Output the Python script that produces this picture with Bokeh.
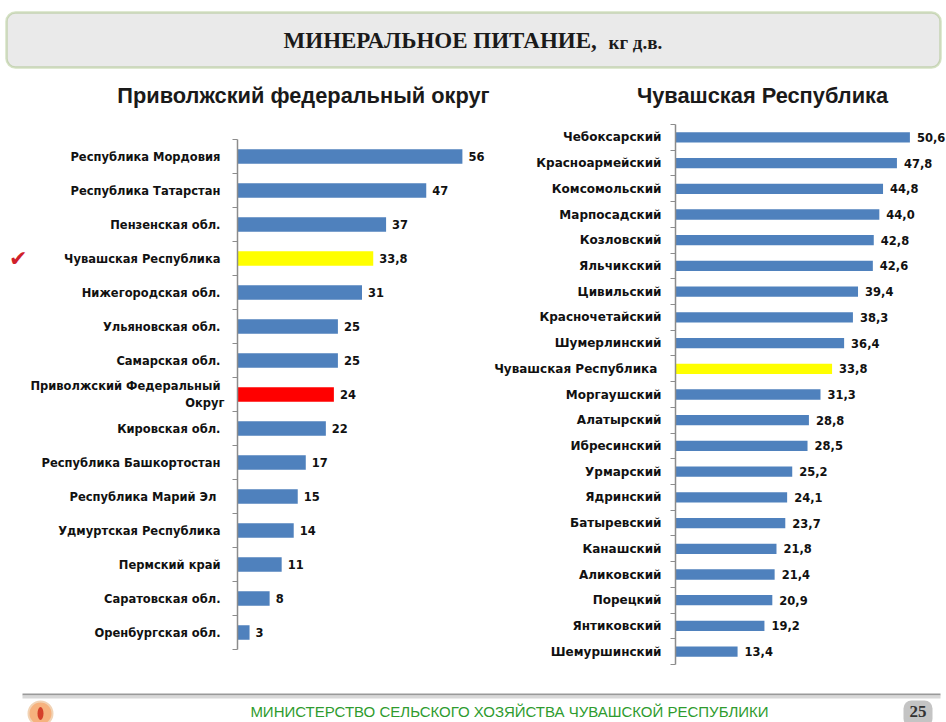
from bokeh.plotting import figure
from bokeh.layouts import column, row
from bokeh.models import Range1d, FixedTicker, ColumnDataSource, BoxAnnotation, LinearAxis
from bokeh.embed import file_html
from bokeh.resources import INLINE
from bokeh.core.properties import value

# ---------------- data ----------------
title_main = "МИНЕРАЛЬНОЕ  ПИТАНИЕ,"
title_unit = "кг д.в."
subtitle_left = "Приволжский федеральный округ"
subtitle_right = "Чувашская Республика"
footer_text = "МИНИСТЕРСТВО СЕЛЬСКОГО ХОЗЯЙСТВА ЧУВАШСКОЙ РЕСПУБЛИКИ"
page_number = "25"

pfo_regions = [
    "Республика  Мордовия",
    "Республика  Татарстан",
    "Пензенская  обл.",
    "Чувашская  Республика",
    "Нижегородская  обл.",
    "Ульяновская  обл.",
    "Самарская  обл.",
    "Приволжский  Федеральный\nОкруг",
    "Кировская  обл.",
    "Республика  Башкортостан",
    "Республика  Марий  Эл",
    "Удмуртская  Республика",
    "Пермский  край",
    "Саратовская  обл.",
    "Оренбургская  обл.",
]
pfo_values = [56, 47, 37, 33.8, 31, 25, 25, 24, 22, 17, 15, 14, 11, 8, 3]
pfo_highlight = {
    "Чувашская  Республика": "#FFFF00",
    "Приволжский  Федеральный\nОкруг": "#FF0000",
}
pfo_marked = "Чувашская  Республика"

chr_districts = [
    "Чебоксарский", "Красноармейский", "Комсомольский", "Марпосадский",
    "Козловский", "Яльчикский", "Цивильский", "Красночетайский",
    "Шумерлинский", "Чувашская  Республика", "Моргаушский", "Алатырский",
    "Ибресинский", "Урмарский", "Ядринский", "Батыревский", "Канашский",
    "Аликовский", "Порецкий", "Янтиковский", "Шемуршинский",
]
chr_values = [50.6, 47.8, 44.8, 44.0, 42.8, 42.6, 39.4, 38.3, 36.4, 33.8, 31.3,
              28.8, 28.5, 25.2, 24.1, 23.7, 21.8, 21.4, 20.9, 19.2, 13.4]
chr_highlight = {"Чувашская  Республика": "#FFFF00"}

BLUE = "#4F81BD"
FONT = value("DejaVu Sans")

CH_H = 567          # height of the chart row
B_TOP, B_BOT = 9, 18
FRAME_H = CH_H - B_TOP - B_BOT


def fmt_int(v):
    return f"{v:g}".replace(".", ",")


def fmt_one(v):
    return f"{v:.1f}".replace(".", ",")


def bar_chart(labels, values, highlight, fmt, width, b_left, xmax, y_range,
              label_size, value_size, standoff, bar_h, val_offset):
    n = len(labels)
    pos = [n - 1 - i for i in range(n)]
    src = ColumnDataSource(dict(
        y=pos, v=values,
        c=[highlight.get(l, BLUE) for l in labels],
        t=[fmt(v) for v in values],
    ))
    p = figure(width=width, height=CH_H, x_range=Range1d(0, xmax),
               y_range=y_range, output_backend="svg",
               toolbar_location=None, x_axis_location=None,
               min_border_left=b_left, min_border_right=0,
               min_border_top=B_TOP, min_border_bottom=B_BOT)
    p.hbar(y="y", left=0, right="v", height=bar_h, fill_color="c",
           line_color=None, source=src)
    p.text(x="v", y="y", text="t", x_offset=val_offset, text_align="left",
           text_baseline="middle", text_font=FONT, text_font_style="bold",
           text_font_size=value_size, text_color="#111111", source=src)
    ax = p.yaxis[0]
    ax.ticker = FixedTicker(ticks=pos, minor_ticks=[k - 0.5 for k in range(n + 1)])
    ax.major_label_overrides = {k: l for k, l in zip(pos, labels)}
    ax.bounds = (-0.5, n - 0.5)
    ax.major_tick_out = 0
    ax.major_tick_in = 0
    ax.minor_tick_out = 5
    ax.minor_tick_in = 0
    ax.minor_tick_line_color = "#8C8C8C"
    ax.axis_line_color = "#8C8C8C"
    ax.axis_line_width = 1.5
    ax.major_label_standoff = standoff
    ax.major_label_text_font = "DejaVu Sans"
    ax.major_label_text_font_style = "bold"
    ax.major_label_text_font_size = label_size
    ax.major_label_text_color = "#111111"
    p.grid.visible = False
    p.outline_line_color = None
    p.background_fill_color = "white"
    p.border_fill_color = "white"
    return p, pos


# ---------------- header ----------------
hdr = figure(width=946, height=115, x_range=Range1d(0, 946), y_range=Range1d(115, 0),
             output_backend="svg", toolbar_location=None, min_border=0,
             x_axis_location=None, y_axis_location=None)
hdr.grid.visible = False
hdr.outline_line_color = None
hdr.add_layout(BoxAnnotation(left=6, right=940, top=12, bottom=67, level="underlay",
                             fill_color="#EAEAEA", fill_alpha=1,
                             line_color="#74A03C", line_width=2.5,
                             border_radius=9))
hdr.text(x=[602], y=[40], text=[title_main], text_align="right",
         text_baseline="middle", text_font=value("Liberation Serif"),
         text_font_style="bold", text_font_size="23px", text_color="#1a1a1a")
hdr.text(x=[608], y=[42], text=[title_unit], text_align="left",
         text_baseline="middle", text_font=value("Liberation Serif"),
         text_font_style="bold", text_font_size="19px", text_color="#1a1a1a")
hdr.text(x=[303, 762], y=[95, 95], text=[subtitle_left, subtitle_right],
         text_align="center", text_baseline="middle",
         text_font=value("Liberation Sans"), text_font_style="bold",
         text_font_size="21.8px", text_color="#1a1a1a")

# ---------------- charts ----------------
# left chart: rows 34 px apart, first row centre 32 px below the frame top
n_left = len(pfo_regions)
L_ROW, L_FIRST = 34.0, 32.0
l_top = (n_left - 1) + L_FIRST / L_ROW
l_yr = Range1d(l_top - FRAME_H / L_ROW, l_top)
left, left_pos = bar_chart(pfo_regions, pfo_values, pfo_highlight, fmt_int,
                           width=488, b_left=237, xmax=62.5, y_range=l_yr,
                           label_size="11.5px", value_size="11.5px",
                           standoff=8, bar_h=0.42, val_offset=6)

mark_y = left_pos[pfo_regions.index(pfo_marked)]
mark_axis = LinearAxis(ticker=FixedTicker(ticks=[mark_y], minor_ticks=[]),
                       major_label_overrides={mark_y: "✔"},
                       axis_line_color=None, major_tick_line_color=None,
                       minor_tick_line_color=None, major_label_standoff=0,
                       major_tick_out=0, major_tick_in=0,
                       minor_tick_out=0, minor_tick_in=0,
                       major_label_text_color="#D0202A",
                       major_label_text_font="DejaVu Sans",
                       major_label_text_font_size="22px")
left.add_layout(mark_axis, "left")

n_right = len(chr_districts)
right, right_pos = bar_chart(chr_districts, chr_values, chr_highlight, fmt_one,
                             width=458, b_left=187, xmax=58.5,
                             y_range=Range1d(-0.5, n_right - 0.5),
                             label_size="12px", value_size="11.5px",
                             standoff=9, bar_h=0.4, val_offset=7)

# ---------------- footer ----------------
ftr = figure(width=946, height=40, x_range=Range1d(0, 946), y_range=Range1d(40, 0),
             output_backend="svg", toolbar_location=None, min_border=0,
             x_axis_location=None, y_axis_location=None)
ftr.grid.visible = False
ftr.outline_line_color = None
ftr.line(x=[22, 940], y=[12, 12], line_color="#9A9A9A", line_width=2)
ftr.line(x=[22, 940], y=[14.5, 14.5], line_color="#D8D8D8", line_width=3)
ftr.scatter(x=[40], y=[31], size=24, marker="circle", fill_color="#F6B27E",
            line_color="#F1D3B5", line_width=2)
ftr.ellipse(x=[40], y=[31], width=6, height=13, fill_color="#D5402A", line_color=None)
ftr.text(x=[509], y=[29], text=[footer_text], text_align="center",
         text_baseline="middle", text_font=value("Liberation Sans"),
         text_font_size="15px", text_color="#2E9B2E")
ftr.add_layout(BoxAnnotation(left=903, right=932, top=18, bottom=44, level="underlay",
                             fill_color="#C4C4C4", fill_alpha=1, line_color=None,
                             border_radius=8))
ftr.text(x=[917.5], y=[29], text=[page_number], text_align="center",
         text_baseline="middle", text_font=value("Liberation Serif"),
         text_font_style="bold", text_font_size="17px", text_color="#333333")

layout = column(hdr, row(left, right), ftr)
open("out.html", "w").write(file_html(layout, INLINE))
